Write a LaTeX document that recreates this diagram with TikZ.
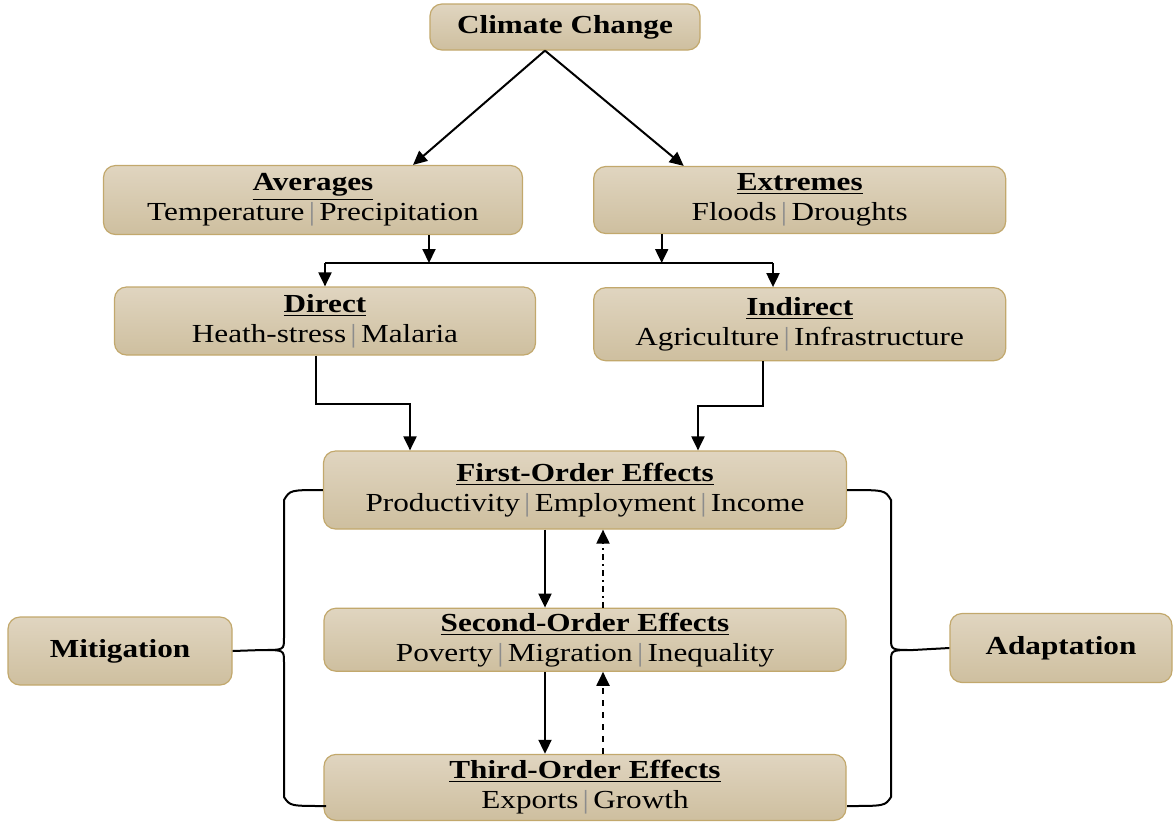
\documentclass[tikz,border=0pt]{standalone}
\usepackage{fontspec}
\setmainfont[FakeStretch=1.2]{Liberation Serif}
\usetikzlibrary{arrows.meta,positioning,calc}

\definecolor{boxtop}{HTML}{E0D5C0}
\definecolor{boxbot}{HTML}{CEBF9F}
\definecolor{boxline}{HTML}{C2A86C}
\newcommand{\sepbar}{{\color{black!45}\,|\,}}

\begin{document}
\begin{tikzpicture}[x=0.5pt,y=-0.5pt,>={Triangle[length=7pt,width=6.5pt]},
line width=1pt,
main node/.style={rounded corners=6pt,draw=boxline,line width=0.6pt,top color=boxtop,bottom color=boxbot,
  align=center,inner sep=0pt,font=\fontsize{13}{15}\selectfont},
link/.style={->,line width=1pt}]

\useasboundingbox (0,0) rectangle (1174,821);

\node[main node,minimum width=135pt,minimum height=23pt] (climate) at (565,27) {\textbf{Climate Change}};
\node[main node,minimum width=209.5pt,minimum height=34.5pt] (averages) at (313,200)
  {\underline{\textbf{Averages}}\\Temperature\sepbar Precipitation};
\node[main node,minimum width=206pt,minimum height=33.5pt] (extremes) [right=35pt of averages]
  {\underline{\textbf{Extremes}}\\Floods\sepbar Droughts};
\node[main node,minimum width=210.5pt,minimum height=34pt] (direct) at (325,321)
  {\underline{\textbf{Direct}}\\Heath-stress\sepbar Malaria};
\node[main node,minimum width=206pt,minimum height=36.5pt] (indirect) [below=26.5pt of extremes]
  {\underline{\textbf{Indirect}}\\Agriculture\sepbar Infrastructure};
\node[main node,minimum width=261.5pt,minimum height=39pt] (first) at (585,490)
  {\underline{\textbf{First-Order Effects}}\\Productivity\sepbar Employment\sepbar Income};
\node[main node,minimum width=261pt,minimum height=31.5pt] (second) [below=39pt of first]
  {\underline{\textbf{Second-Order Effects}}\\Poverty\sepbar Migration\sepbar Inequality};
\node[main node,minimum width=261pt,minimum height=33pt] (third) [below=41pt of second]
  {\underline{\textbf{Third-Order Effects}}\\Exports\sepbar Growth};
\node[main node,minimum width=112pt,minimum height=34pt] (mitigation) at (120,651) {\textbf{Mitigation}};
\node[main node,minimum width=111pt,minimum height=34.5pt] (adaptation) at (1061,648) {\textbf{Adaptation}};

% climate change splits
\draw[link] ([xshift=-10pt]climate.south) -- ([xshift=50pt]averages.north);
\draw[link] ([xshift=-10pt]climate.south) -- ([xshift=-58pt]extremes.north);

% bus into direct / indirect
\coordinate (busL) at (325,263);
\coordinate (busR) at (773,263);
\draw[link] ([xshift=58pt]averages.south) -- ([xshift=58pt]averages.south |- busL);
\draw[link] ([xshift=-69pt]extremes.south) -- ([xshift=-69pt]extremes.south |- busL);
\draw (busL) -- (busR);
\draw[link] (busL) -- (direct.north);
\draw[link] (busR) -- (busR |- indirect.north);

% into first-order effects
\coordinate (bendL) at (410,404);
\coordinate (bendR) at (698,406);
\draw[link] ([xshift=-4.5pt]direct.south) |- (bendL) -- (bendL |- first.north);
\draw[link] ([xshift=-18.5pt]indirect.south) |- (bendR) -- (bendR |- first.north);

% order effects chain
\draw[link] ([xshift=-20pt]first.south) -- ([xshift=-20pt]first.south |- second.north);
\draw[link,dash dot] ([xshift=9pt]second.north) -- ([xshift=9pt]second.north |- first.south);
\draw[link] ([xshift=-20pt]second.south) -- ([xshift=-20pt]second.south |- third.north);
\draw[link,dashed] ([xshift=9pt]third.north) -- ([xshift=9pt]third.north |- second.south);

% braces
\coordinate (tipL) at (262,650);
\coordinate (tipR) at (913,650);
\coordinate (endL) at (326,806);
\coordinate (endR) at (847,806);
\draw (first.west) .. controls (290,490) .. (284,500) -- (284,638) .. controls (284,650) .. (tipL)
  .. controls (284,650) .. (284,662) -- (284,797) .. controls (290,806) .. (endL);
\draw (mitigation.east) -- (tipL);
\draw (first.east) .. controls (885,490) .. (891,500) -- (891,638) .. controls (891,650) .. (tipR)
  .. controls (891,650) .. (891,662) -- (891,797) .. controls (885,806) .. (endR);
\draw (tipR) -- (adaptation.west);

\end{tikzpicture}
\end{document}
